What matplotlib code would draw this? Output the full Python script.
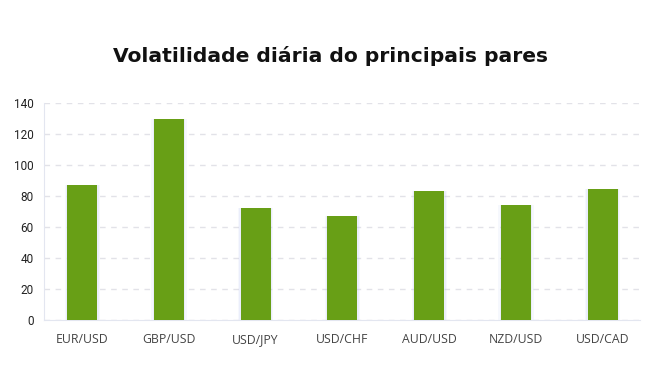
import matplotlib
matplotlib.use("Agg")
import matplotlib.pyplot as plt

categories = ["EUR/USD", "GBP/USD", "USD/JPY", "USD/CHF", "AUD/USD", "NZD/USD", "USD/CAD"]
values = [87, 130, 72.5, 67, 83.5, 74, 84.5]
yticks = [0, 20, 40, 60, 80, 100, 120, 140]
title = "Volatilidade diária do principais pares"

W, H = 660, 366
fig = plt.figure(figsize=(W / 100, H / 100), dpi=100)
left, right, top, bottom = 44, 640, 103, 320
ax = fig.add_axes([left / W, 1 - bottom / H, (right - left) / W, (bottom - top) / H])

x = list(range(len(categories)))
bw = 0.346
# soft glow behind bars
for off, a in [(0.03, 0.12), (0.016, 0.18)]:
    ax.bar(x, values, width=bw + 2 * off, color="#b9c6f2", alpha=a, zorder=2, linewidth=0)
ax.bar(x, values, width=bw, color="#689f16", zorder=3, linewidth=0)

ax.set_xlim(-0.44, 6.43)
ax.set_ylim(0, 140)
ax.set_yticks(yticks)
ax.set_xticks(x)
ax.set_xticklabels(categories, fontfamily="Open Sans", fontsize=8.8, color="#444444")
for lab in ax.get_yticklabels():
    lab.set_fontfamily("Roboto")
    lab.set_fontsize(8.5)
    lab.set_color("#222222")

ax.grid(axis="y", linestyle=(0, (4, 4)), color="#e2e2e8", linewidth=1, zorder=0)
ax.tick_params(axis="both", length=0)
ax.tick_params(axis="y", pad=7.5)
ax.tick_params(axis="x", pad=9.5)
for s in ["top", "right"]:
    ax.spines[s].set_visible(False)
ax.spines["left"].set_color("#e3e6f0")
ax.spines["bottom"].set_color("#e3e6f0")

fig.text(0.5 + 1 / W, 1 - 62 / H, title, ha="center", va="baseline", fontsize=14.6,
         fontweight="bold", fontfamily="DejaVu Sans", color="#111111")

fig.savefig("out.png", dpi=100, facecolor="white")
